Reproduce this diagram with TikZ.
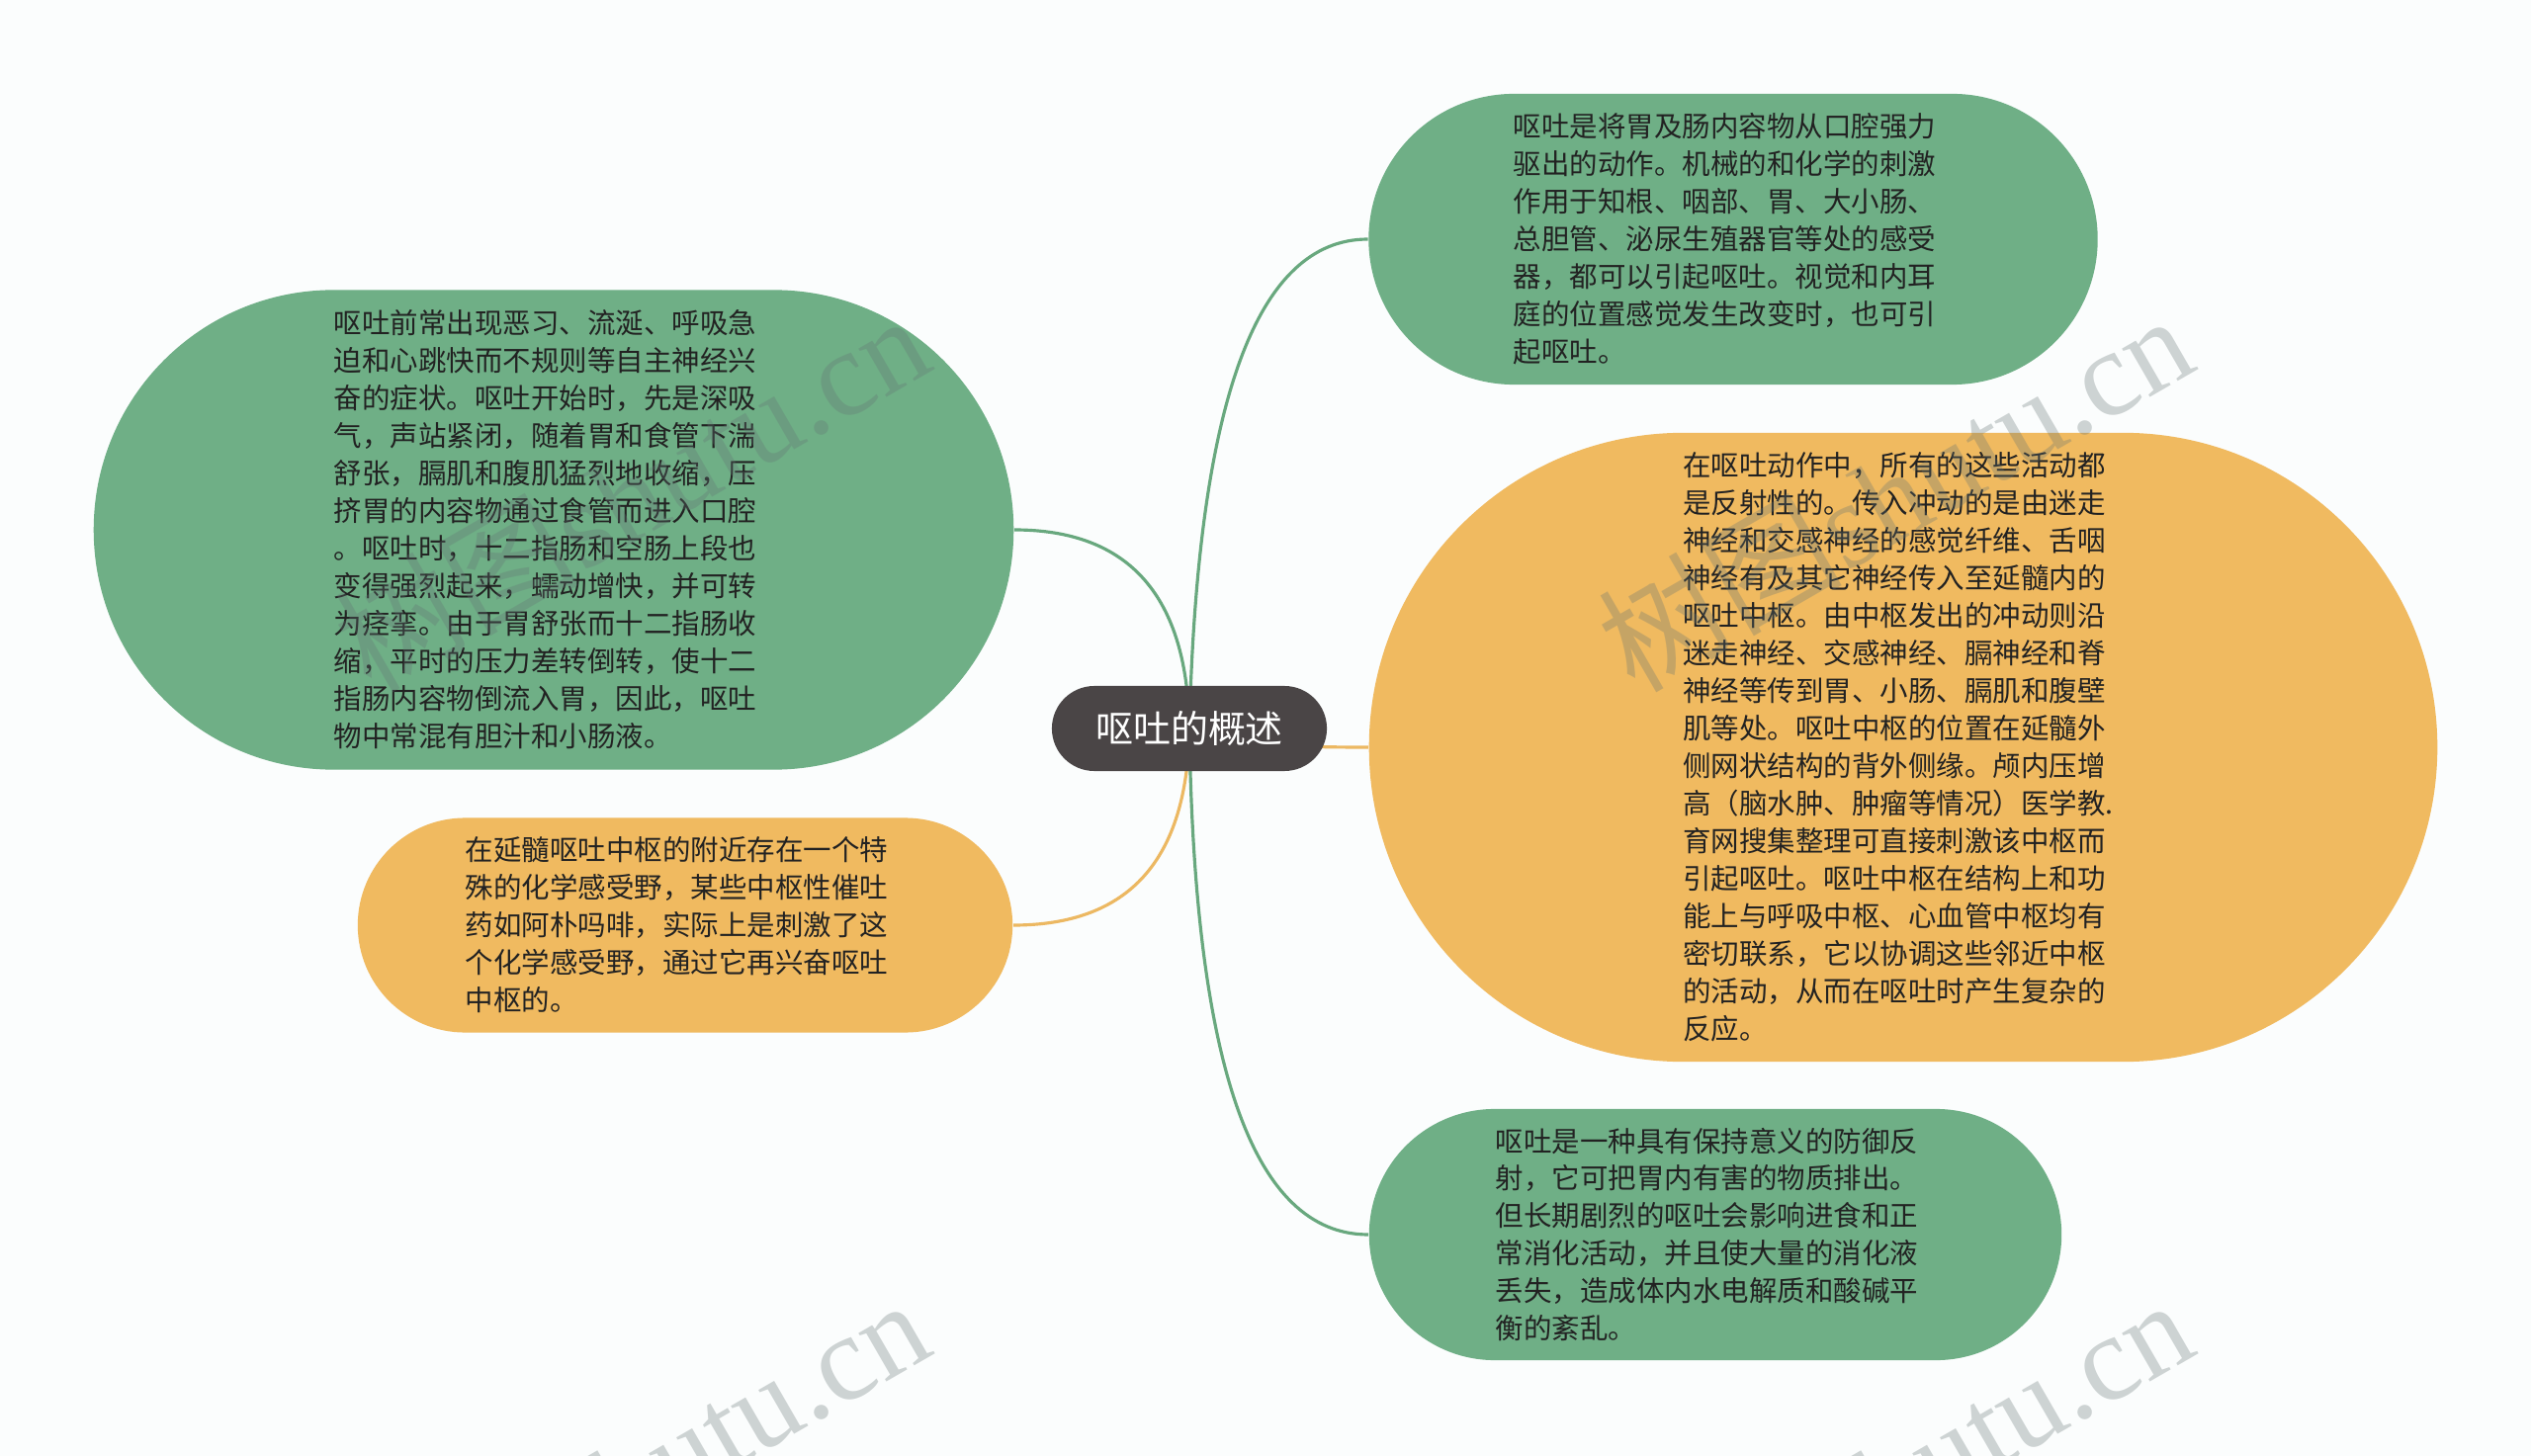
\documentclass[tikz,border=0pt]{standalone}
\usepackage{fontspec}
\newfontfamily\cjk{Noto Sans CJK SC}
\newfontfamily\wmserif{Liberation Serif}
\usetikzlibrary{backgrounds}
\definecolor{bgc}{RGB}{251,253,253}
\definecolor{gfill}{RGB}{111,175,134}
\definecolor{ofill}{RGB}{240,186,96}
\definecolor{rootc}{RGB}{74,69,70}
\definecolor{gline}{RGB}{104,168,126}
\definecolor{oline}{RGB}{236,184,98}
\definecolor{txt}{RGB}{34,34,34}
\definecolor{wm}{RGB}{100,115,115}
\newcommand{\padr}[1]{\makebox[#1]{}}
\begin{document}
\begin{tikzpicture}[x=0.01cm,y=-0.01cm,
  leaf/.style={inner sep=0pt, align=left, text=txt, font=\cjk\fontsize{8.1pt}{10.8pt}\selectfont},
  gleaf/.style={leaf, fill=gfill},
  oleaf/.style={leaf, fill=ofill},
  rootnode/.style={fill=rootc, text=white, inner sep=0pt, font=\cjk\fontsize{10.8pt}{13pt}\selectfont, minimum width=2.78cm, minimum height=0.86cm, rounded corners=0.43cm},
  gconn/.style={draw=gline, line width=0.9pt},
  oconn/.style={draw=oline, line width=0.9pt},
  wmark/.style={text=wm, opacity=0.3, rotate=30, inner sep=0pt, anchor=base east, font=\wmserif\fontsize{35pt}{40pt}\selectfont}
]
\useasboundingbox (0,0) rectangle (2560,1473);
\clip (0,0) rectangle (2560,1473);

\node[rootnode] (root) at (1203,737) {呕吐的概述};

\node[gleaf, minimum width=7.37cm, minimum height=2.94cm, rounded corners=1.47cm] (n1) at (1753,242) {%
呕吐是将胃及肠内容物从口腔强力\padr{0.17cm}\\
驱出的动作。机械的和化学的刺激\\
作用于知根、咽部、胃、大小肠、\\
总胆管、泌尿生殖器官等处的感受\\
器，都可以引起呕吐。视觉和内耳\\
庭的位置感觉发生改变时，也可引\\
起呕吐。};

\node[gleaf, minimum width=9.30cm, minimum height=4.85cm, rounded corners=2.425cm] (n2) at (560,536) {%
呕吐前常出现恶习、流涎、呼吸急\padr{0.17cm}\\
迫和心跳快而不规则等自主神经兴\\
奋的症状。呕吐开始时，先是深吸\\
气，声站紧闭，随着胃和食管下湍\\
舒张，膈肌和腹肌猛烈地收缩，压\\
挤胃的内容物通过食管而进入口腔\\
。呕吐时，十二指肠和空肠上段也\\
变得强烈起来，蠕动增快，并可转\\
为痉挛。由于胃舒张而十二指肠收\\
缩，平时的压力差转倒转，使十二\\
指肠内容物倒流入胃，因此，呕吐\\
物中常混有胆汁和小肠液。};

\node[oleaf, minimum width=10.80cm, minimum height=6.36cm, rounded corners=3.18cm] (n3) at (1925,756) {%
在呕吐动作中，所有的这些活动都\\
是反射性的。传入冲动的是由迷走\\
神经和交感神经的感觉纤维、舌咽\\
神经有及其它神经传入至延髓内的\\
呕吐中枢。由中枢发出的冲动则沿\\
迷走神经、交感神经、膈神经和脊\\
神经等传到胃、小肠、膈肌和腹壁\\
肌等处。呕吐中枢的位置在延髓外\\
侧网状结构的背外侧缘。颅内压增\\
高（脑水肿、肿瘤等情况）医学教.\padr{0.10cm}\\
育网搜集整理可直接刺激该中枢而\\
引起呕吐。呕吐中枢在结构上和功\\
能上与呼吸中枢、心血管中枢均有\\
密切联系，它以协调这些邻近中枢\\
的活动，从而在呕吐时产生复杂的\\
反应。};

\node[oleaf, minimum width=6.62cm, minimum height=2.17cm, rounded corners=1.085cm] (n4) at (693,936) {%
在延髓呕吐中枢的附近存在一个特\padr{0.17cm}\\
殊的化学感受野，某些中枢性催吐\\
药如阿朴吗啡，实际上是刺激了这\\
个化学感受野，通过它再兴奋呕吐\\
中枢的。};

\node[gleaf, minimum width=7.00cm, minimum height=2.54cm, rounded corners=1.27cm] (n5) at (1735,1249) {%
呕吐是一种具有保持意义的防御反\padr{0.17cm}\\
射，它可把胃内有害的物质排出。\\
但长期剧烈的呕吐会影响进食和正\\
常消化活动，并且使大量的消化液\\
丢失，造成体内水电解质和酸碱平\\
衡的紊乱。};

\begin{scope}[on background layer]
\fill[bgc] (0,0) rectangle (2560,1473);
\draw[gconn] (root.center) .. controls +(8,-330) and +(-113,0) .. (n1.west);
\draw[gconn] (root.center) .. controls +(-2,-133) and +(117,0) .. (n2.east);
\draw[oconn] (root.center) .. controls +(5,13) and +(-117,0) .. (n3.west);
\draw[oconn] (root.center) .. controls +(-2,133) and +(117,0) .. (n4.east);
\draw[gconn] (root.center) .. controls +(5,341) and +(-117,0) .. (n5.west);
\end{scope}

\node[wmark] (wm1) at (948,372) {{\cjk 树图}shutu.cn};
\node[wmark] (wm2) at (2226,372) {{\cjk 树图}shutu.cn};
\node[wmark] (wm3) at (948,1368) {{\cjk 树图}shutu.cn};
\node[wmark] (wm4) at (2226,1368) {{\cjk 树图}shutu.cn};
\end{tikzpicture}
\end{document}
